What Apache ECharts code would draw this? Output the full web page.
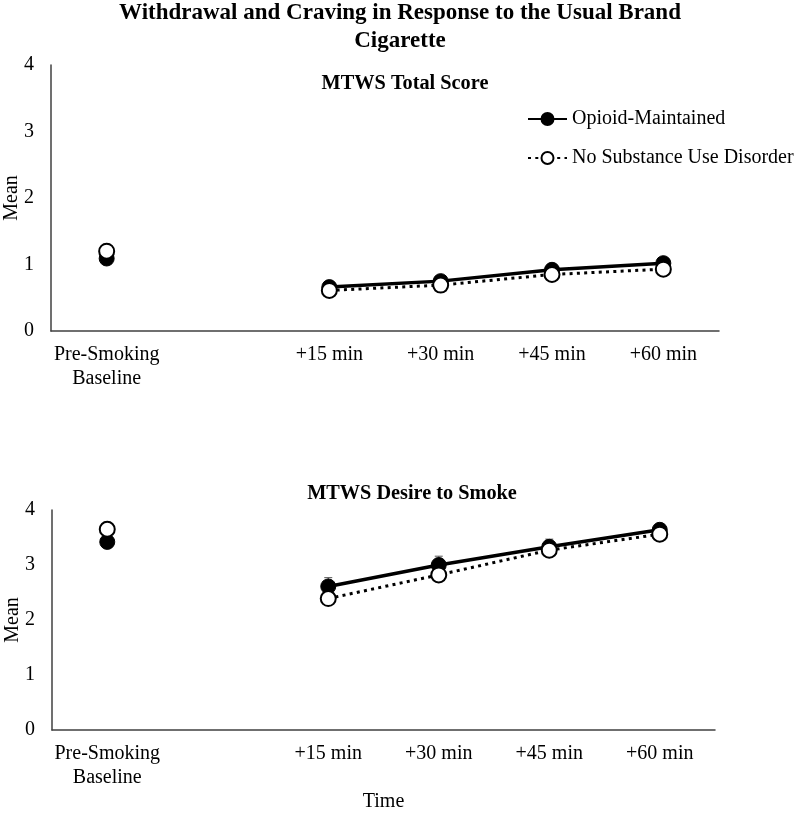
<!DOCTYPE html>
<html><head><meta charset="utf-8">
<script src="https://cdn.jsdelivr.net/npm/echarts@6/dist/echarts.min.js"></script>
<style>html,body{margin:0;padding:0;background:#fff}#c{width:800px;height:814px}</style>
</head><body><div id="c"></div>
<script>
const categories = ["Pre-Smoking\nBaseline", "", "+15 min", "+30 min", "+45 min", "+60 min"];
const seriesNames = ["Opioid-Maintained", "No Substance Use Disorder"];
const yTicks = [0, 1, 2, 3, 4];
const totalOM = [1.09, null, 0.66, 0.75, 0.92, 1.02];
const totalNSUD = [1.20, null, 0.61, 0.69, 0.85, 0.93];
const desireOM = [3.42, null, 2.61, 3.00, 3.33, 3.64];
const desireNSUD = [3.65, null, 2.39, 2.82, 3.27, 3.56];
const desireOMUpper = [null, null, 2.77, 3.16, 3.47, null];

const FONT = "Liberation Serif";
const chart = echarts.init(document.getElementById('c'), null, {renderer: 'canvas'});

function xAxis(gi, showName) {
  return {
    type: 'category', gridIndex: gi, data: categories, boundaryGap: true,
    axisLine: {lineStyle: {color: '#404040', width: 1.5}},
    axisTick: {show: false},
    axisLabel: {color: '#000', fontFamily: FONT, fontSize: 20, margin: 12, lineHeight: 24, interval: 0},
    name: showName ? 'Time' : '', nameLocation: 'middle', nameGap: 62, nameMoveOverlap: false,
    nameTextStyle: {color: '#000', fontFamily: FONT, fontSize: 20}
  };
}
function yAxis(gi) {
  return {
    type: 'value', gridIndex: gi, min: yTicks[0], max: yTicks[yTicks.length - 1], interval: 1,
    axisLine: {show: true, lineStyle: {color: '#404040', width: 1.5}},
    axisTick: {show: false}, splitLine: {show: false},
    axisLabel: {color: '#000', fontFamily: FONT, fontSize: 20, margin: 17},
    name: 'Mean', nameLocation: 'middle', nameGap: 29, nameRotate: 90, nameMoveOverlap: false,
    nameTextStyle: {color: '#000', fontFamily: FONT, fontSize: 20}
  };
}
function omSeries(name, data, xi) {
  return {
    name: name, type: 'line', xAxisIndex: xi, yAxisIndex: xi, data: data,
    connectNulls: false, symbol: 'circle', symbolSize: 15,
    lineStyle: {color: '#000', width: 3.5, type: 'solid'},
    itemStyle: {color: '#000', borderColor: '#000', borderWidth: 1},
    z: 3, animation: false
  };
}
function nsudSeries(name, data, xi) {
  return {
    name: name, type: 'line', xAxisIndex: xi, yAxisIndex: xi, data: data,
    connectNulls: false, symbol: 'circle', symbolSize: 15,
    lineStyle: {color: '#000', width: 3, type: [3, 4.3], cap: 'butt'},
    itemStyle: {color: '#fff', borderColor: '#000', borderWidth: 2},
    z: 4, animation: false
  };
}

const errData = [];
desireOMUpper.forEach((u, i) => { if (u != null) errData.push([i, desireOM[i], u]); });

chart.setOption({
  animation: false,
  title: [
    {text: 'Withdrawal and Craving in Response to the Usual Brand\nCigarette', left: 'center', top: -1, padding: 0,
     textStyle: {fontFamily: FONT, fontWeight: 'bold', fontSize: 23, lineHeight: 28, color: '#000'}},
    {text: 'MTWS Total Score', left: 405, textAlign: 'center', top: 74, padding: 0,
     textStyle: {fontFamily: FONT, fontWeight: 'bold', fontSize: 20.3, color: '#000'}},
    {text: 'MTWS Desire to Smoke', left: 412, textAlign: 'center', top: 484, padding: 0,
     textStyle: {fontFamily: FONT, fontWeight: 'bold', fontSize: 20.3, color: '#000'}}
  ],
  legend: {
    orient: 'vertical', left: 527, top: 109, padding: 0, itemGap: 19, itemWidth: 39, itemHeight: 15,
    data: seriesNames,
    textStyle: {fontFamily: FONT, fontSize: 20, color: '#000'}
  },
  grid: [
    {left: 51, right: 81, top: 65, height: 266, outerBoundsMode: 'none', containLabel: false},
    {left: 52, right: 85, top: 510, height: 220, outerBoundsMode: 'none', containLabel: false}
  ],
  xAxis: [xAxis(0, false), xAxis(1, true)],
  yAxis: [yAxis(0), yAxis(1)],
  series: [
    omSeries(seriesNames[0], totalOM, 0),
    nsudSeries(seriesNames[1], totalNSUD, 0),
    omSeries(seriesNames[0], desireOM, 1),
    nsudSeries(seriesNames[1], desireNSUD, 1),
    {
      type: 'custom', xAxisIndex: 1, yAxisIndex: 1, data: errData, z: 2,
      renderItem: function (params, api) {
        const lo = api.coord([api.value(0), api.value(1)]);
        const hi = api.coord([api.value(0), api.value(2)]);
        const w = 4;
        return {type: 'group', children: [
          {type: 'line', shape: {x1: lo[0], y1: lo[1], x2: hi[0], y2: hi[1]}, style: {stroke: '#555', lineWidth: 1}},
          {type: 'line', shape: {x1: hi[0] - w, y1: hi[1], x2: hi[0] + w, y2: hi[1]}, style: {stroke: '#555', lineWidth: 1}}
        ]};
      }
    }
  ]
});
</script></body></html>
